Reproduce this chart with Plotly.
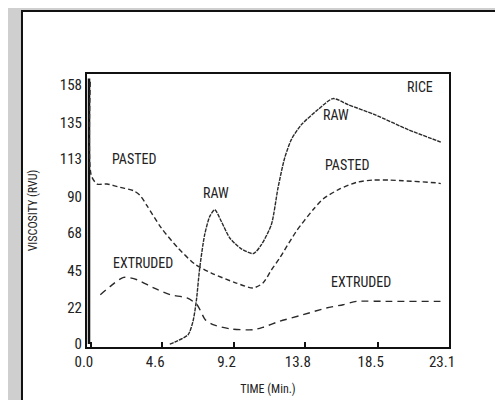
import plotly.graph_objects as go

# ---- data (time in minutes, viscosity in RVU) ----
raw_time = [5.09, 5.41, 6.27, 6.59, 6.80, 7.02, 7.34, 7.67, 7.99, 8.41, 8.96, 9.70, 10.49,
            11.0, 11.64, 12.07, 12.5, 12.93, 13.58, 14.65, 15.62, 16.59, 18.31, 20.46, 22.57]
raw_visc = [0, 1.2, 5.7, 14.0, 26.2, 46.4, 66.7, 77.9, 81.9, 74.9, 64.7, 58.1, 55.2,
            60.6, 72.8, 95.2, 113.5, 124.7, 133.8, 143.0, 149.7, 146.0, 139.9, 130.8, 123.2]

pasted_time = [-0.04, 0.02, 0.40, 1.04, 1.88, 2.76, 3.19, 3.62, 4.54, 5.62, 6.70, 7.77, 9.38,
               10.46, 11.1, 11.64, 12.18, 13.25, 14.33, 14.98, 16.05, 17.12, 18.2, 19.28,
               20.14, 22.39, 22.57]
pasted_visc = [160, 103, 97.6, 97.6, 95.6, 93.5, 90.5, 84.4, 70.8, 58.6, 48.8, 43.3, 37.2,
               34.2, 37.2, 45.1, 52.5, 68.8, 81.9, 88.5, 94.6, 98.6, 100, 100,
               99.6, 98.2, 97.8]

extruded_time = [0.61, 1.25, 2.12, 2.98, 4.05, 5.12, 6.2, 6.85, 7.38, 7.88, 8.96, 10.46,
                 11.1, 12.18, 13.69, 15.19, 16.27, 17.12, 19.28, 22.39, 22.57]
extruded_visc = [30.1, 35.2, 40.7, 39.2, 34.2, 30.1, 28.1, 24.0, 14.8, 11.8, 9.3, 8.7,
                 10.2, 13.9, 17.9, 22.0, 24.0, 26.0, 26.0, 26.0, 26.0]

# start-up spike at the left edge
spike_time = [-0.12, -0.12]
spike_visc = [0, 162]

x_ticks = [0.0, 4.6, 9.2, 13.8, 18.5, 23.1]
x_tick_text = ["0.0", "4.6", "9.2", "13.8", "18.5", "23.1"]
y_ticks = [0, 22, 45, 68, 90, 113, 135, 158]
y_tick_text = ["0", "22", "45", "68", "90", "113", "135", "158"]

labels = ["RICE", "RAW", "PASTED", "PASTED", "RAW", "EXTRUDED", "EXTRUDED"]
label_x = [21.21, 15.83, 16.52, 2.78, 8.09, 3.36, 17.41]
label_y = [156.8, 139.5, 109.4, 113.0, 92.1, 49.4, 37.8]

FONT = "Liberation Sans Narrow, Arial Narrow, Roboto Condensed, Liberation Sans, Arial, sans-serif"

fig = go.Figure()

fig.add_trace(go.Scatter(x=spike_time, y=spike_visc, mode="lines",
                         line=dict(color="#111111", width=2.5), showlegend=False,
                         hoverinfo="skip"))
fig.add_trace(go.Scatter(x=raw_time, y=raw_visc, mode="lines", name="RAW",
                         line=dict(color="#2a2a2a", width=1.4, dash="4px,1px",
                                   shape="spline", smoothing=0.7),
                         showlegend=False))
fig.add_trace(go.Scatter(x=pasted_time, y=pasted_visc, mode="lines", name="PASTED",
                         line=dict(color="#2a2a2a", width=1.4, dash="5px,3px",
                                   shape="spline", smoothing=0.7),
                         showlegend=False))
fig.add_trace(go.Scatter(x=extruded_time, y=extruded_visc, mode="lines", name="EXTRUDED",
                         line=dict(color="#2a2a2a", width=1.4, dash="7px,5px",
                                   shape="spline", smoothing=0.7),
                         showlegend=False))

for t, lx, ly in zip(labels, label_x, label_y):
    fig.add_annotation(x=lx, y=ly, text=t, showarrow=False,
                       font=dict(family=FONT, size=14, color="#222222"))

# white panel with black border behind the chart
fig.add_shape(type="rect", xref="paper", yref="paper",
              x0=-0.1796, x1=1.1409, y0=-0.26, y1=1.2308,
              line=dict(color="#111111", width=2), fillcolor="white", layer="below")

fig.update_xaxes(range=[-0.25, 23.1], tickvals=x_ticks, ticktext=x_tick_text,
                 ticks="inside", ticklen=5, tickwidth=1.5, tickcolor="#111111",
                 showline=True, mirror=True, linewidth=2, linecolor="#111111",
                 showgrid=False, zeroline=False, ticklabelshift=-7,
                 tickfont=dict(family=FONT, size=15, color="#222222"),
                 title=dict(text="TIME (Min.)", standoff=15,
                            font=dict(family=FONT, size=12, color="#222222")))
fig.update_yaxes(range=[-1.8, 164.7], tickvals=y_ticks, ticktext=y_tick_text,
                 ticks="", showline=True, mirror=True, linewidth=2, linecolor="#111111",
                 showgrid=False, zeroline=False,
                 tickfont=dict(family=FONT, size=15, color="#222222"),
                 title=dict(text="VISCOSITY (RVU)", standoff=20,
                            font=dict(family=FONT, size=12, color="#222222")))

fig.update_layout(width=503, height=400,
                  margin=dict(l=79, r=62, t=66, b=61),
                  paper_bgcolor="#cfcfcf", plot_bgcolor="white",
                  showlegend=False)

fig.write_html("out.html")
